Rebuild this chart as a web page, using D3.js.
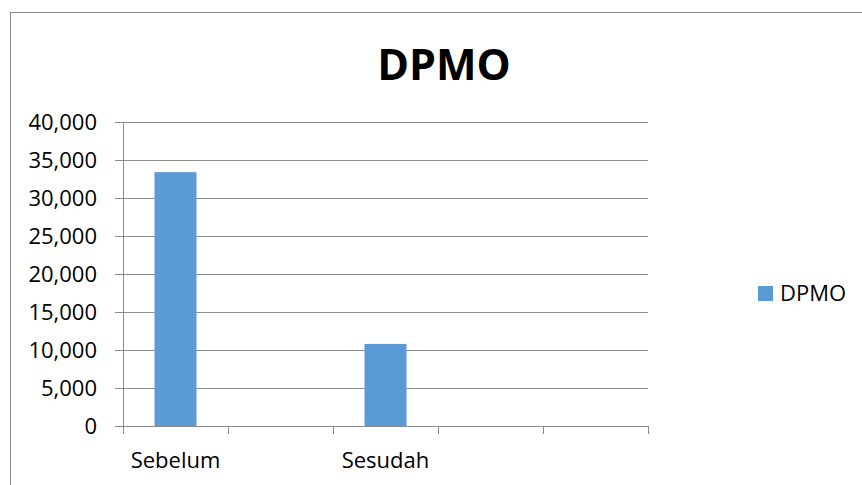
<!DOCTYPE html>
<html>
<head>
<meta charset="utf-8" />
<script src="https://cdn.jsdelivr.net/npm/d3@7"></script>
<style>
    body { margin: 0; background: #fff; }
    text { font-family: "Open Sans", "Noto Sans", sans-serif; fill: #000; }
</style>
</head>
<body>
<script>
    var categories = ["Sebelum", "", "Sesudah", "", ""];
    var dpmo = [33400, null, 10800, null, null];
    var yTicks = [0, 5000, 10000, 15000, 20000, 25000, 30000, 35000, 40000];
    var seriesName = "DPMO";

    var svgWidth = 862, svgHeight = 485;
    var margin = {top: 122, left: 123, right: 214, bottom: 59};
    var width = svgWidth - margin.left - margin.right,
        height = svgHeight - margin.top - margin.bottom;

    var svg = d3.select("body").append("svg")
        .attr("width", svgWidth)
        .attr("height", svgHeight);

    // chart frame
    svg.append("rect")
        .attr("x", 10.5).attr("y", 12.5)
        .attr("width", 900).attr("height", 600)
        .attr("fill", "none")
        .attr("stroke", "#8c8c8c");

    svg.append("text")
        .attr("x", 444).attr("y", 80)
        .attr("text-anchor", "middle")
        .style("font-size", "43px")
        .style("font-weight", "bold")
        .text("DPMO");

    var g = svg.append("g")
        .attr("transform", "translate(" + margin.left + "," + margin.top + ")");

    var x = d3.scaleBand().domain(d3.range(categories.length)).range([0, width]);
    var y = d3.scaleLinear().domain([0, 40000]).range([height, 0]);

    // gridlines + y ticks
    g.selectAll(".grid").data(yTicks).enter().append("line")
        .attr("x1", -8).attr("x2", width)
        .attr("y1", d => Math.round(y(d)) + 0.5)
        .attr("y2", d => Math.round(y(d)) + 0.5)
        .attr("stroke", "#8c8c8c");

    g.selectAll(".ylab").data(yTicks).enter().append("text")
        .attr("x", -26)
        .attr("y", d => y(d) + 8)
        .attr("text-anchor", "end")
        .style("font-size", "22px")
        .text(d => d3.format(",")(d));

    // y axis line
    g.append("line")
        .attr("x1", 0.5).attr("x2", 0.5)
        .attr("y1", 0).attr("y2", height)
        .attr("stroke", "#8c8c8c");

    // x ticks
    g.selectAll(".xtick").data(d3.range(categories.length + 1)).enter().append("line")
        .attr("x1", d => Math.round(d * x.bandwidth()) + 0.5)
        .attr("x2", d => Math.round(d * x.bandwidth()) + 0.5)
        .attr("y1", height).attr("y2", height + 8)
        .attr("stroke", "#8c8c8c");

    var barW = x.bandwidth() * 0.4;
    g.selectAll(".bar").data(dpmo.map((v, i) => ({v: v, i: i})).filter(d => d.v != null))
        .enter().append("rect")
        .attr("x", d => x(d.i) + (x.bandwidth() - barW) / 2)
        .attr("y", d => y(d.v))
        .attr("width", barW)
        .attr("height", d => height - y(d.v))
        .attr("fill", "#5b9bd5");

    g.selectAll(".xlab").data(categories).enter().append("text")
        .attr("x", (d, i) => x(i) + x.bandwidth() / 2)
        .attr("y", height + 42)
        .attr("text-anchor", "middle")
        .style("font-size", "22px")
        .text(d => d);

    // legend
    svg.append("rect")
        .attr("x", 758).attr("y", 286)
        .attr("width", 15).attr("height", 15)
        .attr("fill", "#5b9bd5");
    svg.append("text")
        .attr("x", 780).attr("y", 301)
        .style("font-size", "22px")
        .text(seriesName);
</script>
</body>
</html>
